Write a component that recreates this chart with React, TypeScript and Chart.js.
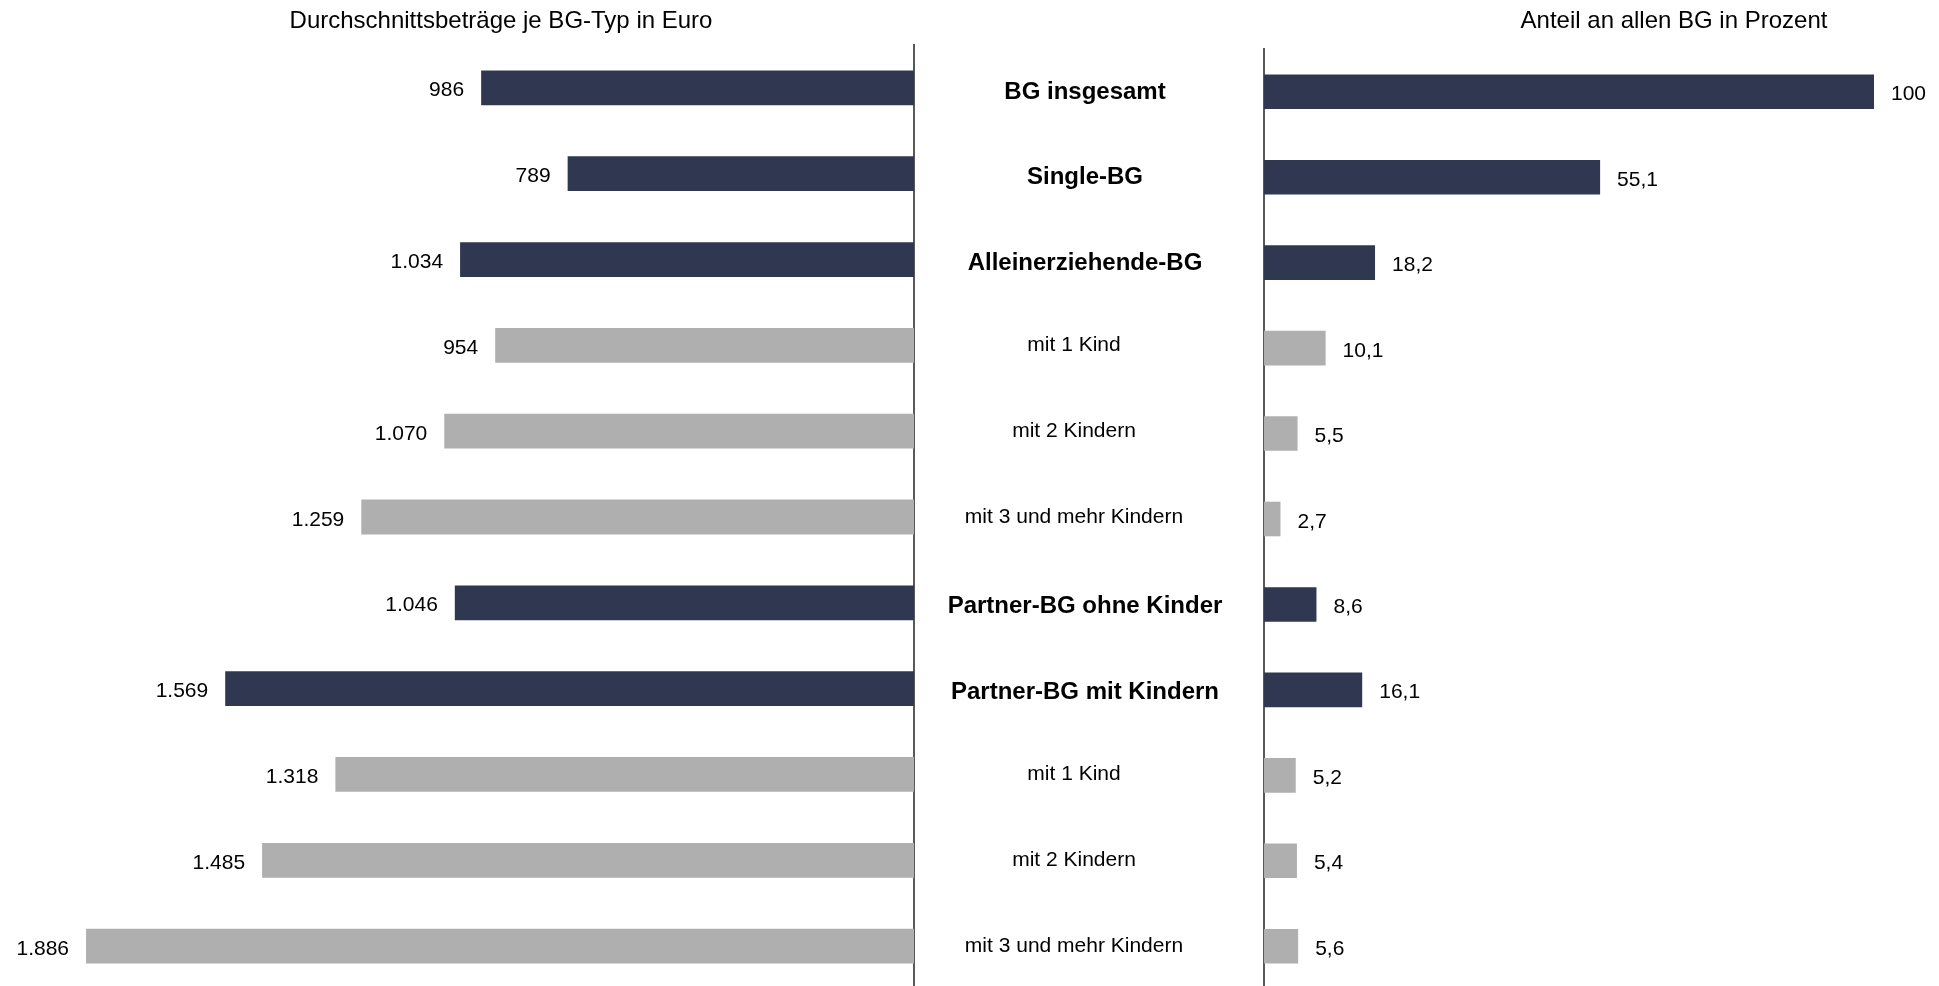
import React, { useEffect, useRef } from "react";
import { Chart, registerables } from "chart.js";

Chart.register(...registerables);

// ---------- data ----------
const categories: string[] = [
  "BG insgesamt",
  "Single-BG",
  "Alleinerziehende-BG",
  "mit 1 Kind",
  "mit 2 Kindern",
  "mit 3 und mehr Kindern",
  "Partner-BG ohne Kinder",
  "Partner-BG mit Kindern",
  "mit 1 Kind",
  "mit 2 Kindern",
  "mit 3 und mehr Kindern",
];
const amountsEuro: number[] = [986, 789, 1034, 954, 1070, 1259, 1046, 1569, 1318, 1485, 1886];
const sharePercent: number[] = [100, 55.1, 18.2, 10.1, 5.5, 2.7, 8.6, 16.1, 5.2, 5.4, 5.6];
const isMainGroup: boolean[] = [true, true, true, false, false, false, true, true, false, false, false];
const leftTitle = "Durchschnittsbeträge je BG-Typ in Euro";
const rightTitle = "Anteil an allen BG in Prozent";

// ---------- style ----------
const DARK = "#2F3850";
const GRAY = "#AFAFAF";
const AXIS = "#595959";
const FONT = "'Liberation Sans', Arial, sans-serif";
const W = 1939;
const H = 989;

function fmtAmount(v: number): string {
  return String(v).replace(/\B(?=(\d{3})+(?!\d))/g, ".");
}
function fmtShare(v: number): string {
  return String(v).replace(".", ",");
}

const colors = isMainGroup.map((m) => (m ? DARK : GRAY));

export default function App() {
  const leftRef = useRef<HTMLCanvasElement | null>(null);
  const rightRef = useRef<HTMLCanvasElement | null>(null);

  useEffect(() => {
    if (!leftRef.current || !rightRef.current) return;

    const leftPlugin = {
      id: "leftLabels",
      afterDatasetsDraw(chart: any) {
        const ctx = chart.ctx;
        const meta = chart.getDatasetMeta(0);
        ctx.save();
        ctx.fillStyle = "#000";
        ctx.font = `21px ${FONT}`;
        ctx.textAlign = "right";
        ctx.textBaseline = "alphabetic";
        meta.data.forEach((bar: any, i: number) => {
          ctx.fillText(fmtAmount(amountsEuro[i]), bar.x - 17, bar.y + 0.358 * 21 + 1);
        });
        ctx.restore();
      },
      afterDraw(chart: any) {
        const ctx = chart.ctx;
        const yScale = chart.scales.y;
        ctx.save();
        ctx.fillStyle = "#000";
        ctx.textBaseline = "alphabetic";
        ctx.textAlign = "center";
        ctx.font = `24px ${FONT}`;
        ctx.fillText(leftTitle, 501, 28);
        ctx.fillText(rightTitle, 1674, 28);
        categories.forEach((c, i) => {
          const y = yScale.getPixelForValue(i);
          if (isMainGroup[i]) {
            ctx.font = `bold 24px ${FONT}`;
            ctx.fillText(c, 1085, y + 2 + 0.358 * 24);
          } else {
            ctx.font = `21px ${FONT}`;
            ctx.fillText(c, 1074, y - 2 + 0.358 * 21);
          }
        });
        ctx.restore();
      },
    };

    const rightPlugin = {
      id: "rightLabels",
      afterDatasetsDraw(chart: any) {
        const ctx = chart.ctx;
        const meta = chart.getDatasetMeta(0);
        ctx.save();
        ctx.fillStyle = "#000";
        ctx.font = `21px ${FONT}`;
        ctx.textAlign = "left";
        ctx.textBaseline = "alphabetic";
        meta.data.forEach((bar: any, i: number) => {
          ctx.fillText(fmtShare(sharePercent[i]), bar.x + 17, bar.y + 0.358 * 21 + 1);
        });
        ctx.restore();
      },
    };

    const common = {
      indexAxis: "y" as const,
      responsive: false,
      animation: false as const,
      plugins: {
        legend: { display: false },
        tooltip: { enabled: false },
        title: { display: false },
      },
    };

    const left = new Chart(leftRef.current, {
      type: "bar",
      data: {
        labels: categories,
        datasets: [
          {
            data: amountsEuro,
            backgroundColor: colors,
            borderWidth: 0,
            barPercentage: 0.405,
            categoryPercentage: 1,
          },
        ],
      },
      options: {
        ...common,
        layout: { padding: { left: 36, right: W - 914, top: 45, bottom: 0 } },
        scales: {
          x: { display: false, reverse: true, min: 0, max: 2000 },
          y: {
            position: "right",
            z: 1,
            ticks: { display: false },
            grid: { display: false, drawTicks: false },
            border: { display: true, color: AXIS, width: 2 },
            afterFit: (s: any) => {
              s.width = 0;
            },
          },
        },
      } as any,
      plugins: [leftPlugin],
    });

    const right = new Chart(rightRef.current, {
      type: "bar",
      data: {
        labels: categories,
        datasets: [
          {
            data: sharePercent,
            backgroundColor: colors,
            borderWidth: 0,
            barPercentage: 0.405,
            categoryPercentage: 1,
          },
        ],
      },
      options: {
        ...common,
        layout: { padding: { left: 1264, right: 4, top: 49, bottom: 0 } },
        scales: {
          x: { display: false, min: 0, max: 110 },
          y: {
            position: "left",
            z: 1,
            ticks: { display: false },
            grid: { display: false, drawTicks: false },
            border: { display: true, color: AXIS, width: 2 },
            afterFit: (s: any) => {
              s.width = 0;
            },
          },
        },
      } as any,
      plugins: [rightPlugin],
    });

    return () => {
      left.destroy();
      right.destroy();
    };
  }, []);

  const canvasStyle: React.CSSProperties = {
    position: "absolute",
    left: 0,
    top: 0,
    width: W,
    height: H,
  };

  return (
    <div
      style={{
        position: "fixed",
        left: 0,
        top: 0,
        width: W,
        height: 986,
        overflow: "hidden",
        background: "#fff",
      }}
    >
      <canvas ref={leftRef} width={W} height={H} style={canvasStyle} />
      <canvas ref={rightRef} width={W} height={H} style={canvasStyle} />
    </div>
  );
}
